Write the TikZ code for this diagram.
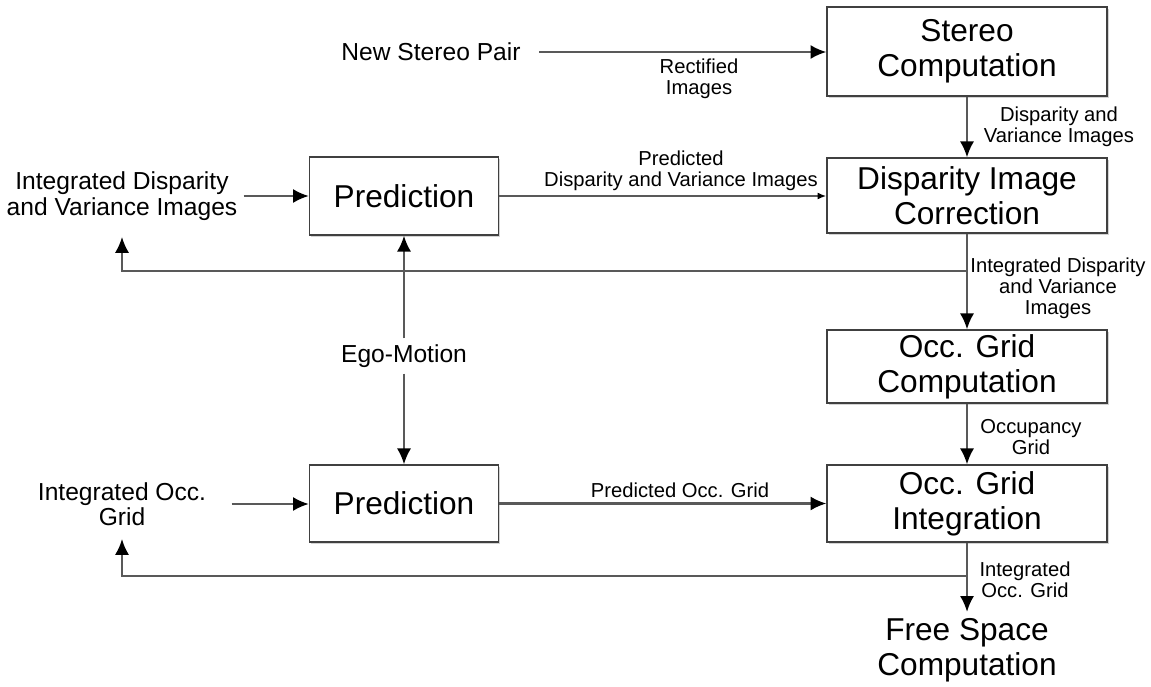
\documentclass[tikz,border=0pt]{standalone}
\usepackage{fontspec}
\setmainfont{Liberation Sans}
\usetikzlibrary{positioning, arrows.meta, shadows}
\colorlet{wire color}{black!65}
\tikzset{wire/.style={draw=wire color, line width=1.2pt}}
\tikzset{flow/.style={wire, -{Latex[length=9pt, width=8pt, color=black]}}}
\tikzset{thin flow/.style={wire, -{Latex[length=5pt, width=4pt, color=black]}}}
\tikzset{stage/.style={draw=black!75, line width=0.8pt, fill=white, drop shadow={opacity=0.35, shadow xshift=1pt, shadow yshift=-1pt}, minimum width=5.6cm, align=center, font=\fontsize{18}{20}\selectfont, inner sep=0pt}}
\tikzset{datum/.style={align=center, font=\fontsize{14}{14.5}\selectfont}}
\tikzset{tag/.style={align=center, font=\fontsize{11.5}{12}\selectfont, inner sep=1pt}}

\begin{document}
\begin{tikzpicture}[x=0.02cm, y=-0.02cm]
  \useasboundingbox (0, 0) rectangle (1151, 686);
  % stages on the right
  \node[stage, minimum height=1.78cm] (stereo) at (967, 51.5) {Stereo\\Computation};
  \node[stage, minimum height=1.5cm] (correct) at (967, 195.5) {Disparity Image\\Correction};
  \node[stage, minimum height=1.46cm] (gridcomp) at (967, 366.5) {Occ. Grid\\Computation};
  \node[stage, minimum height=1.54cm] (gridint) at (967, 503.5) {Occ. Grid\\Integration};
  \node[align=center, font=\fontsize{18}{20}\selectfont] (freespace) at (967, 650) {Free Space\\Computation};
  % predictions
  \node[stage, minimum width=3.78cm, minimum height=1.56cm] (predisp) at (404, 196) {Prediction};
  \node[stage, minimum width=3.78cm, minimum height=1.54cm] (predgrid) at (404, 503.5) {Prediction};
  % inputs
  \node[datum] (pair) at (431, 52) {New Stereo Pair};
  \node[datum] (intdisp) at (122, 196) {Integrated Disparity\\and Variance Images};
  \node[datum] (intgrid) at (122, 504) {Integrated Occ.\\Grid};
  \node[datum] (ego) at (404, 356) {Ego-Motion};
  % labels of the wires
  \node[tag] (rectified) at (699, 79) {Rectified\\Images};
  \node[tag] (dispvar) at (1059, 127) {Disparity and\\Variance Images};
  \node[tag] (predicted) at (681, 171) {Predicted\\Disparity and Variance Images};
  \node[tag] (integrated) at (1058, 288) {Integrated Disparity\\and Variance\\Images};
  \node[tag] (occupancy) at (1031, 437) {Occupancy\\Grid};
  \node[tag] (predocc) at (680, 490) {Predicted Occ. Grid};
  \node[tag] (intocc) at (1025, 580) {Integrated\\Occ. Grid};
  % branch points of the feedback wires
  \coordinate (dispfork) at (967, 271);
  \coordinate (gridfork) at (967, 576);

  \draw[flow, shorten <=7pt] (pair.east) -- (pair.east -| stereo.west);
  \draw[flow] (stereo) -- (correct);
  \draw[flow] (correct) -- (gridcomp);
  \draw[flow] (gridcomp) -- (gridint);
  \draw[flow] (gridint) -- (freespace);
  \draw[flow] (intdisp.east) -- (intdisp.east -| predisp.west);
  \draw[thin flow] (predisp.east) -- (predisp.east -| correct.west);
  \draw[flow, shorten <=11pt] (intgrid.east) -- (intgrid.east -| predgrid.west);
  \draw[flow] (predgrid.east) -- (predgrid.east -| gridint.west);
  \draw[flow] (ego) -- (predisp);
  \draw[flow] (ego) -- (predgrid);
  \draw[flow, shorten >=6pt] (dispfork) -| (intdisp.south);
  \draw[flow, shorten >=4pt] (gridfork) -| (intgrid.south);
\end{tikzpicture}
\end{document}
